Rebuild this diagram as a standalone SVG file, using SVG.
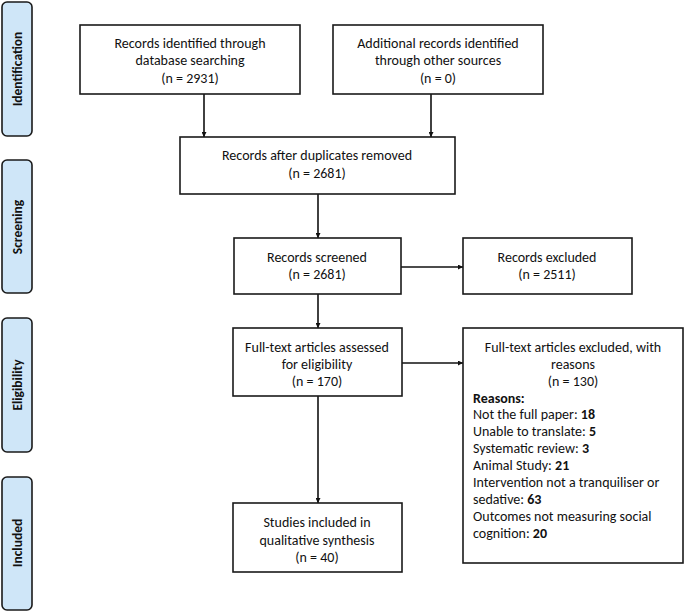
<svg xmlns="http://www.w3.org/2000/svg" width="685" height="613" viewBox="0 0 685 613">
<style>
.box{fill:#fff;stroke:#1a1a1a;stroke-width:1.6}
.side{fill:#cfe6f8;stroke:#1a1a1a;stroke-width:1.6}
text{font-family:Carlito,"Liberation Sans",Arial,sans-serif;font-size:14px;fill:#111}
.c{text-anchor:middle}
.sl{font-weight:bold;text-anchor:middle;font-size:13.5px}
.b{font-weight:bold}
.conn{stroke:#111;stroke-width:1.6;fill:none;marker-end:url(#ah)}
</style>
<defs>
<marker id="ah" viewBox="0 0 10 10" refX="10" refY="5" markerWidth="5" markerHeight="5" orient="auto" markerUnits="userSpaceOnUse"><path d="M0,0 L10,5 L0,10 z" fill="#111"/></marker>
</defs>
<rect width="685" height="613" fill="#fff"/>
<g id="side-identification"><rect class="side" x="2" y="2" width="30" height="134" rx="5"/><text class="sl" transform="translate(22,69) rotate(-90)">Identification</text></g>
<g id="side-screening"><rect class="side" x="2" y="160" width="30" height="133" rx="5"/><text class="sl" transform="translate(22,227) rotate(-90)">Screening</text></g>
<g id="side-eligibility"><rect class="side" x="2" y="318" width="30" height="134" rx="5"/><text class="sl" transform="translate(22,385) rotate(-90)">Eligibility</text></g>
<g id="side-included"><rect class="side" x="2" y="477" width="30" height="133" rx="5"/><text class="sl" transform="translate(22,543) rotate(-90)">Included</text></g>

<g id="connectors">
<path class="conn" d="M204,94 V137"/>
<path class="conn" d="M431,94 V137"/>
<path class="conn" d="M318,194 V238"/>
<path class="conn" d="M401,267 H463"/>
<path class="conn" d="M318,294 V328"/>
<path class="conn" d="M402,363 H463"/>
<path class="conn" d="M318,396 V503"/>
</g>

<g id="n-db"><rect class="box" x="80" y="25" width="220" height="69"/>
<text class="c" x="190" y="48">Records identified through</text>
<text class="c" x="190" y="65">database searching</text>
<text class="c" x="190" y="83">(n = 2931)</text></g>
<g id="n-other"><rect class="box" x="333" y="25" width="210" height="69"/>
<text class="c" x="438" y="48">Additional records identified</text>
<text class="c" x="438" y="65">through other sources</text>
<text class="c" x="438" y="83">(n = 0)</text></g>
<g id="n-dup"><rect class="box" x="180" y="137" width="275" height="57"/>
<text class="c" x="317" y="160">Records after duplicates removed</text>
<text class="c" x="317" y="178">(n = 2681)</text></g>
<g id="n-screened"><rect class="box" x="234" y="238" width="167" height="56"/>
<text class="c" x="317" y="262">Records screened</text>
<text class="c" x="317" y="279">(n = 2681)</text></g>
<g id="n-excluded"><rect class="box" x="463" y="238" width="169" height="56"/>
<text class="c" x="547" y="262">Records excluded</text>
<text class="c" x="547" y="279">(n = 2511)</text></g>
<g id="n-fulltext"><rect class="box" x="233" y="328" width="169" height="68"/>
<text class="c" x="317" y="352">Full-text articles assessed</text>
<text class="c" x="317" y="369">for eligibility</text>
<text class="c" x="317" y="386">(n = 170)</text></g>
<g id="n-ftexcluded"><rect class="box" x="463" y="328" width="220" height="235"/>
<text class="c" x="573" y="352">Full-text articles excluded, with</text>
<text class="c" x="573" y="369">reasons</text>
<text class="c" x="573" y="386">(n = 130)</text>
<text class="b" x="473" y="403">Reasons:</text>
<text x="473" y="419">Not the full paper: <tspan class="b">18</tspan></text>
<text x="473" y="436">Unable to translate: <tspan class="b">5</tspan></text>
<text x="473" y="453">Systematic review: <tspan class="b">3</tspan></text>
<text x="473" y="470">Animal Study: <tspan class="b">21</tspan></text>
<text x="473" y="487">Intervention not a tranquiliser or</text>
<text x="473" y="504">sedative: <tspan class="b">63</tspan></text>
<text x="473" y="521">Outcomes not measuring social</text>
<text x="473" y="538">cognition: <tspan class="b">20</tspan></text></g>
<g id="n-included"><rect class="box" x="233" y="503" width="169" height="69"/>
<text class="c" x="317" y="527">Studies included in</text>
<text class="c" x="317" y="545">qualitative synthesis</text>
<text class="c" x="317" y="562">(n = 40)</text></g>
</svg>
